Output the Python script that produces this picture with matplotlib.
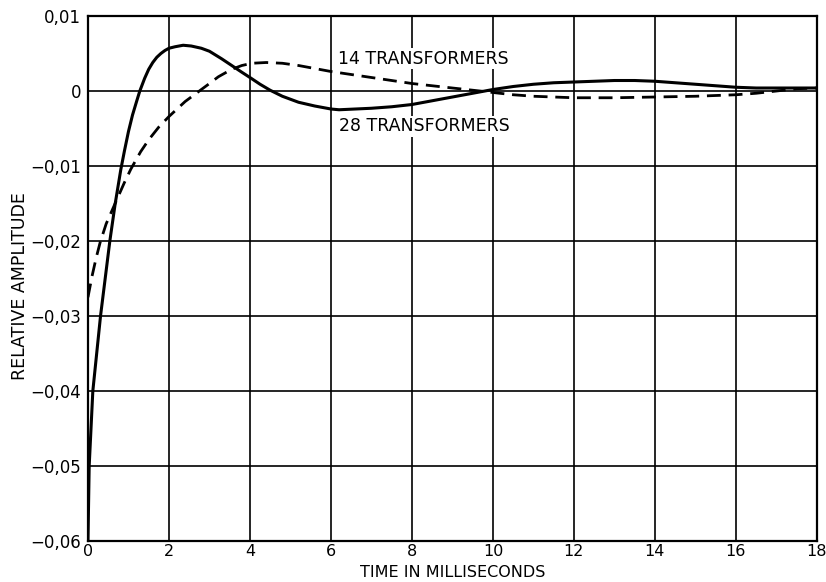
import matplotlib.pyplot as plt

# 28 transformers (solid)
t28 = [0.0, 0.03, 0.12, 0.31, 0.54, 0.67, 0.81, 0.9, 1.0, 1.1, 1.2, 1.28, 1.4,
       1.5, 1.6, 1.7, 1.8, 1.9, 2.0, 2.15, 2.35, 2.55, 2.8, 3.0, 3.3, 3.55,
       3.8, 4.0, 4.25, 4.5, 4.8, 5.2, 5.6, 6.0, 6.2, 6.6, 7.0, 7.5, 8.0, 8.5,
       9.0, 9.5, 10.0, 10.5, 11.0, 11.5, 12.0, 12.5, 13.0, 13.5, 14.0, 14.5,
       15.0, 15.5, 16.0, 16.5, 17.0, 17.5, 18.0]
a28 = [-0.060, -0.050, -0.040, -0.030, -0.020, -0.0151, -0.0105, -0.0080,
       -0.0054, -0.0032, -0.0014, 0.0, 0.0017, 0.0029, 0.0038, 0.0045, 0.0050,
       0.0054, 0.0057, 0.0059, 0.0061, 0.0060, 0.0057, 0.0053, 0.0043, 0.0034,
       0.0025, 0.0018, 0.0009, 0.0001, -0.0007, -0.0015, -0.0020, -0.0024,
       -0.0025, -0.0024, -0.0023, -0.0021, -0.0018, -0.0013, -0.0008, -0.0003,
       0.0002, 0.0006, 0.0009, 0.0011, 0.0012, 0.0013, 0.0014, 0.0014, 0.0013,
       0.0011, 0.0009, 0.0007, 0.0005, 0.0004, 0.0004, 0.0004, 0.0004]

# 14 transformers (dashed)
t14 = [0.0, 0.1, 0.2, 0.3, 0.45, 0.67, 0.9, 1.06, 1.3, 1.5, 1.75, 2.0, 2.2,
       2.4, 2.75, 3.0, 3.22, 3.55, 3.8, 4.05, 4.4, 4.8, 5.2, 5.6, 6.0, 6.5,
       7.0, 7.5, 8.0, 8.5, 9.0, 9.68, 10.0, 10.5, 11.0, 11.5, 12.0, 13.0, 14.0,
       15.0, 16.0, 16.5, 17.0, 17.5, 18.0]
a14 = [-0.0275, -0.0247, -0.0223, -0.0202, -0.0177, -0.0150, -0.0122,
       -0.0104, -0.0081, -0.0065, -0.0048, -0.0034, -0.0024, -0.0014, 0.0,
       0.0010, 0.0019, 0.0029, 0.0034, 0.0037, 0.0038, 0.0037, 0.0034, 0.0030,
       0.0026, 0.0022, 0.0018, 0.0014, 0.0010, 0.0007, 0.0004, 0.0, -0.0002,
       -0.0005, -0.0007, -0.0008, -0.0009, -0.0009, -0.0008, -0.0007, -0.0005,
       -0.0003, 0.0, 0.0003, 0.0004]

xticks = [0, 2, 4, 6, 8, 10, 12, 14, 16, 18]
yticks = [-0.06, -0.05, -0.04, -0.03, -0.02, -0.01, 0.0, 0.01]
ylabels = ["\u22120,06", "\u22120,05", "\u22120,04", "\u22120,03", "\u22120,02",
           "\u22120,01", "0", "0,01"]

fig = plt.figure(figsize=(8.26, 5.82), dpi=100)
ax = fig.add_axes([0.1065, 0.0704, 0.8825, 0.9021])

ax.plot(t28, a28, color="black", lw=2.2, solid_joinstyle="round", zorder=3)
ax.plot(t14, a14, color="black", lw=2.0, dashes=(5, 2.8), zorder=3)

ax.set_xlim(0, 18)
ax.set_ylim(-0.06, 0.01)
ax.set_xticks(xticks)
ax.set_xticklabels([str(v) for v in xticks], fontsize=11.5)
ax.set_yticks(yticks)
ax.set_yticklabels(ylabels, fontsize=12)
ax.tick_params(axis="x", length=0, pad=2)
ax.tick_params(axis="y", length=0, pad=5)
ax.grid(True, color="black", lw=1.2)
for s in ax.spines.values():
    s.set_linewidth(1.6)

ax.text(6.17, 0.0043, "14 TRANSFORMERS", fontsize=12.5, va="center", ha="left",
        bbox=dict(facecolor="white", edgecolor="none", pad=1), zorder=4)
ax.text(6.2, -0.0047, "28 TRANSFORMERS", fontsize=12.5, va="center", ha="left",
        bbox=dict(facecolor="white", edgecolor="none", pad=1), zorder=4)

ax.set_xlabel("TIME IN MILLISECONDS", fontsize=11.5, va="center")
ax.xaxis.set_label_coords(0.5, -0.06)
ax.set_ylabel("RELATIVE AMPLITUDE", fontsize=12.5, va="center")
ax.yaxis.set_label_coords(-0.093, 0.486)

fig.savefig("out.png", dpi=100)
